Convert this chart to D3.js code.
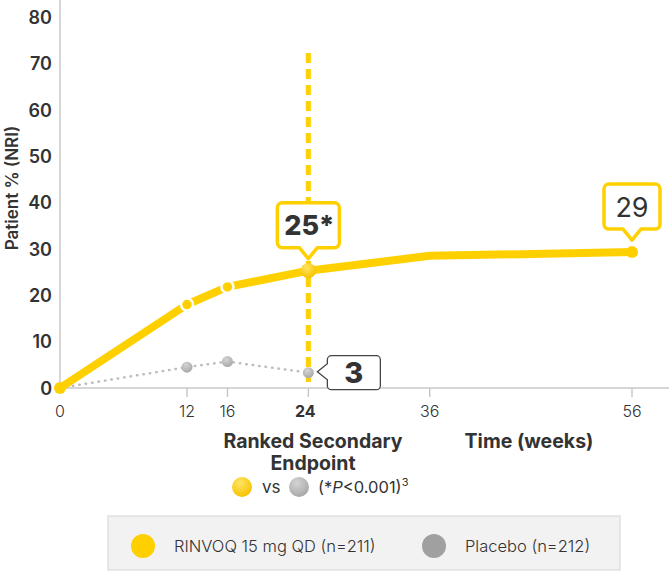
<!DOCTYPE html>
<html><head><meta charset="utf-8">
<script src="https://cdn.jsdelivr.net/npm/d3@7"></script>
<style>body{margin:0;background:#fff}svg{display:block;font-family:Inter,Roboto,"Noto Sans",sans-serif}</style>
</head><body>
<svg id="c" width="669" height="571"></svg>
<script>
const weeks = [0, 12, 16, 24, 36, 56];
const rinvoqValues = [0, 18, 21.8, 25.3, 28.5, 29.3];
const rinvoqMarkerWeeks = [0, 12, 16, 24, 56];
const placeboWeeks = [0, 12, 16, 24];
const placeboValues = [0, 4.5, 5.7, 3.3];
const xTicks = [0, 12, 16, 24, 36, 56];
const yTicks = [0, 10, 20, 30, 40, 50, 60, 70, 80];
const seriesNames = ["RINVOQ 15 mg QD (n=211)", "Placebo (n=212)"];
const callouts = [{week: 24, value: 25.3, label: "25*"}, {week: 56, value: 29.3, label: "29"}];
const placeboCallout = {week: 24, value: 3.3, label: "3"};

const YEL = "#FFD000", TXT = "#333";
const svg = d3.select("#c");
const x = d3.scaleLinear().domain([0, 12, 56]).range([60, 187, 632]);
const y = d3.scaleLinear().domain([0, 80]).range([388, 17]);

const defs = svg.append("defs");
const gy = defs.append("radialGradient").attr("id","gy").attr("cx","40%").attr("cy","30%").attr("r","70%");
gy.append("stop").attr("offset","0%").attr("stop-color","#ffe566");
gy.append("stop").attr("offset","100%").attr("stop-color","#f7c200");
const gg = defs.append("radialGradient").attr("id","gg").attr("cx","40%").attr("cy","30%").attr("r","70%");
gg.append("stop").attr("offset","0%").attr("stop-color","#d4d4d4");
gg.append("stop").attr("offset","100%").attr("stop-color","#a9a9a9");

// axes
svg.append("line").attr("x1",60).attr("x2",60).attr("y1",0).attr("y2",y(0)).attr("stroke","#c8c8c8").attr("stroke-width",1.5);
svg.append("line").attr("x1",60).attr("x2",669).attr("y1",y(0)).attr("y2",y(0)).attr("stroke","#c8c8c8").attr("stroke-width",1.5);
svg.selectAll(".xt").data(xTicks.filter(d=>d>0)).enter().append("line")
  .attr("x1",d=>x(d)).attr("x2",d=>x(d)).attr("y1",y(0)).attr("y2",y(0)+9).attr("stroke","#c8c8c8").attr("stroke-width",1.5);
svg.selectAll(".xl").data(xTicks).enter().append("text")
  .attr("x",d=>x(d)-(d===24?3:0)).attr("y",y(0)+29).attr("text-anchor","middle")
  .attr("font-size",16).attr("font-weight",d=>d===24?700:300).attr("fill",TXT).text(d=>d);
svg.selectAll(".yl").data(yTicks).enter().append("text")
  .attr("x",52).attr("y",d=>y(d)+6.8).attr("text-anchor","end")
  .attr("font-size",18).attr("font-weight",600).attr("fill",TXT).text(d=>d);
svg.append("text").attr("transform","translate(18,188) rotate(-90)").attr("text-anchor","middle")
  .attr("font-size",17).attr("font-weight",600).attr("fill",TXT).text("Patient % (NRI)");

svg.append("text").attr("x",313).attr("y",448).attr("text-anchor","middle").attr("font-size",19.5).attr("font-weight",700).attr("fill",TXT).text("Ranked Secondary");
svg.append("text").attr("x",313).attr("y",470).attr("text-anchor","middle").attr("font-size",19.5).attr("font-weight",700).attr("fill",TXT).text("Endpoint");
svg.append("text").attr("x",529).attr("y",448).attr("text-anchor","middle").attr("font-size",19.5).attr("font-weight",700).attr("fill",TXT).text("Time (weeks)");

// significance row
svg.append("circle").attr("cx",242).attr("cy",487).attr("r",10).attr("fill","url(#gy)");
svg.append("text").attr("x",262).attr("y",493).attr("font-size",17).attr("fill",TXT).text("vs");
svg.append("circle").attr("cx",299).attr("cy",487).attr("r",10).attr("fill","url(#gg)");
const pt = svg.append("text").attr("x",318).attr("y",493).attr("font-size",16.5).attr("fill",TXT);
pt.append("tspan").text("(*");
pt.append("tspan").attr("font-style","italic").text("P");
pt.append("tspan").text("<0.001)");
pt.append("tspan").attr("font-size",11).attr("dy",-7).text("3");

// vertical dashed line at week 24
svg.append("line").attr("x1",x(24)).attr("x2",x(24)).attr("y1",53).attr("y2",y(0)-6)
  .attr("stroke",YEL).attr("stroke-width",5).attr("stroke-dasharray","10,6");

// placebo line
const pData = placeboWeeks.map((w,i)=>({w, v: placeboValues[i]}));
svg.append("path").datum(pData).attr("d", d3.line().x(d=>x(d.w)).y(d=>y(d.v)))
  .attr("fill","none").attr("stroke","#bdbdbd").attr("stroke-width",2.5).attr("stroke-linecap","round").attr("stroke-dasharray","0.5,6");
svg.selectAll(".pm").data(pData.filter(d=>d.w>0)).enter().append("circle")
  .attr("cx",d=>x(d.w)).attr("cy",d=>y(d.v)).attr("r",5.5).attr("fill","url(#gg)");

// rinvoq line
const rData = weeks.map((w,i)=>({w, v: rinvoqValues[i]}));
svg.append("path").datum(rData).attr("d", d3.line().x(d=>x(d.w)).y(d=>y(d.v)))
  .attr("fill","none").attr("stroke",YEL).attr("stroke-width",8).attr("stroke-linejoin","round");
const rm = rData.filter(d=>rinvoqMarkerWeeks.includes(d.w));
svg.selectAll(".rm").data(rm).enter().append("circle")
  .attr("cx",d=>x(d.w)).attr("cy",d=>y(d.v))
  .attr("r",d=>d.w===24?7.5:6)
  .attr("fill",d=>d.w===24?"url(#gy)":YEL)
  .attr("stroke",d=>(d.w===12||d.w===16)?"#fff":"none").attr("stroke-width",2.5);

// yellow callouts (pointer below)
callouts.forEach(c=>{
  const cx = x(c.week), cy = y(c.value);
  const big = c.label.length>2;
  const w = big?62:56, h = 45;
  const tip = cy-12, bot = tip-11, top = bot-h, l = cx-w/2, r = cx+w/2, rr = 5;
  const p = d3.path();
  p.moveTo(l+rr, top); p.lineTo(r-rr, top); p.arcTo(r, top, r, top+rr, rr);
  p.lineTo(r, bot-rr); p.arcTo(r, bot, r-rr, bot, rr);
  p.lineTo(cx+9, bot); p.lineTo(cx, tip); p.lineTo(cx-9, bot);
  p.lineTo(l+rr, bot); p.arcTo(l, bot, l, bot-rr, rr);
  p.lineTo(l, top+rr); p.arcTo(l, top, l+rr, top, rr); p.closePath();
  svg.append("path").attr("d",p.toString()).attr("fill","#fff").attr("stroke",YEL).attr("stroke-width",3.5).attr("stroke-linejoin","round");
  svg.append("text").attr("x",cx+(big?1:0)).attr("y",top+h/2+10).attr("text-anchor","middle")
    .attr("font-size",27).attr("font-weight",big?800:400).attr("fill",TXT).text(c.label);
});

// placebo callout (pointer left)
{
  const px = x(placeboCallout.week)+9, py = y(placeboCallout.value)-1;
  const l = px+10, r = l+53, top = py-16, bot = py+18, rr = 4;
  const p = d3.path();
  p.moveTo(l+rr, top); p.lineTo(r-rr, top); p.arcTo(r, top, r, top+rr, rr);
  p.lineTo(r, bot-rr); p.arcTo(r, bot, r-rr, bot, rr);
  p.lineTo(l+rr, bot); p.arcTo(l, bot, l, bot-rr, rr);
  p.lineTo(l, py+8); p.lineTo(px, py); p.lineTo(l, py-8);
  p.lineTo(l, top+rr); p.arcTo(l, top, l+rr, top, rr); p.closePath();
  svg.append("path").attr("d",p.toString()).attr("fill","#fff").attr("stroke","#444").attr("stroke-width",1.3);
  svg.append("text").attr("x",(l+r)/2).attr("y",py+11).attr("text-anchor","middle")
    .attr("font-size",29).attr("font-weight",800).attr("fill",TXT).text(placeboCallout.label);
}

// legend
svg.append("rect").attr("x",108).attr("y",516).attr("width",512).attr("height",54).attr("fill","#f2f2f2").attr("stroke","#d4d4d4").attr("stroke-width",1);
const legColors = [YEL, "#a0a0a0"], legX = [143, 434];
seriesNames.forEach((n,i)=>{
  svg.append("circle").attr("cx",legX[i]).attr("cy",546).attr("r",12).attr("fill",legColors[i]);
  svg.append("text").attr("x",legX[i]+31).attr("y",552).attr("font-size",16.5).attr("font-weight",300).attr("fill",TXT).text(n);
});
</script>
</body></html>
